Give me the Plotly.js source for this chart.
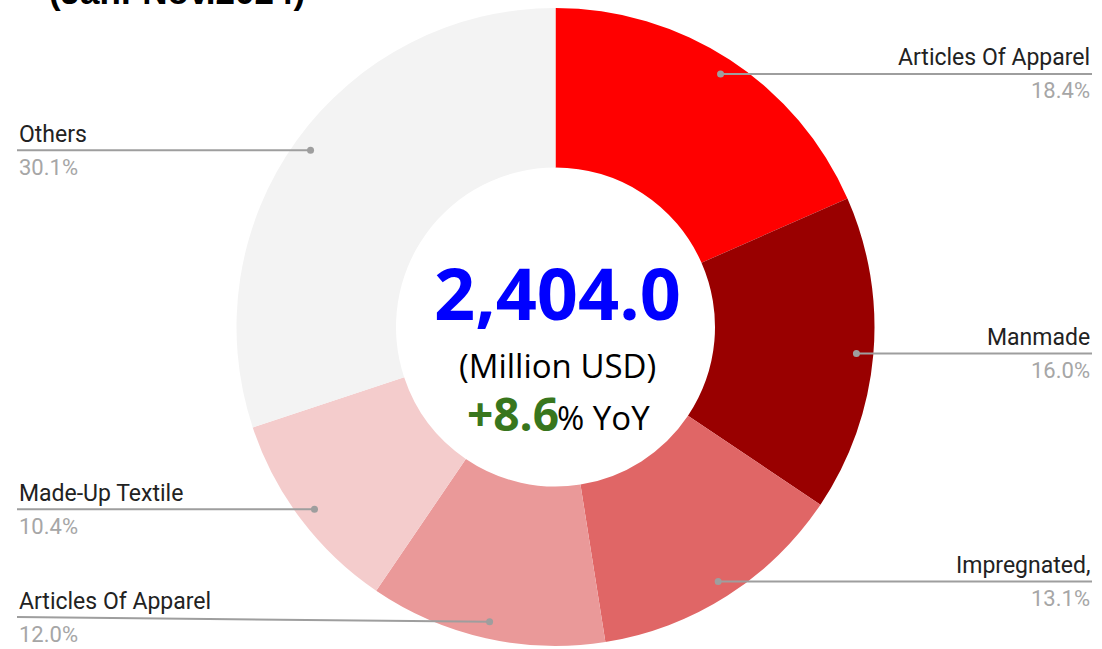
<!DOCTYPE html>
<html>
<head>
<meta charset="utf-8">
<script src="https://cdn.plot.ly/plotly-3.0.1.min.js"></script>
<style>
  html, body { margin: 0; padding: 0; background: #fff; }
  #chart { width: 1102px; height: 649px; }
</style>
</head>
<body>
<div id="chart"></div>
<script>
// slices, clockwise from 12 o'clock
var categories = ['Articles Of Apparel', 'Manmade', 'Impregnated,', 'Articles Of Apparel', 'Made-Up Textile', 'Others'];
var shares = [18.4, 16.0, 13.1, 12.0, 10.4, 30.1];
var colors = ['#ff0000', '#990000', '#e06666', '#ea9999', '#f4cccc', '#f3f3f3'];

var totalValue = '2,404.0';
var totalUnit = '(Million USD)';
var yoy = '+8.6';
var periodTitle = '(Jan.-Nov.2024)';

var W = 1102, H = 649;
var cx = 555.5, cy = 327, R = 319;

function px(x) { return x / W; }
function py(y) { return 1 - y / H; }

var shapes = [];
var annotations = [];

var sum = shares.reduce(function (a, b) { return a + b; }, 0);
var acc = 0;
shares.forEach(function (v, i) {
  var mid = (acc + v / 2) / sum * 2 * Math.PI;
  acc += v;
  var dx = cx + 0.947 * R * Math.sin(mid);
  var dy = cy - 0.947 * R * Math.cos(mid);
  var right = dx > cx;
  var lineY = Math.min(dy, H - 32);
  var edge = right ? 1092 : 17;

  shapes.push({
    type: 'line', xref: 'paper', yref: 'paper',
    x0: px(edge), y0: py(lineY), x1: px(dx), y1: py(dy),
    line: { color: '#9e9e9e', width: 2 }
  });
  shapes.push({
    type: 'circle', xref: 'paper', yref: 'paper',
    x0: px(dx - 3.5), x1: px(dx + 3.5), y0: py(dy - 3.5), y1: py(dy + 3.5),
    fillcolor: '#9e9e9e', line: { width: 0 }
  });
  annotations.push({
    xref: 'paper', yref: 'paper', x: px(edge), y: py(lineY - 16),
    xanchor: right ? 'right' : 'left', yanchor: 'middle', showarrow: false,
    text: categories[i],
    font: { family: 'Roboto, Arial, sans-serif', size: 23, color: '#222222' }
  });
  annotations.push({
    xref: 'paper', yref: 'paper', x: px(edge), y: py(lineY + 17),
    xanchor: right ? 'right' : 'left', yanchor: 'middle', showarrow: false,
    text: v.toFixed(1) + '%',
    font: { family: 'Roboto, Arial, sans-serif', size: 22, color: '#a6a6a6' }
  });
});

// centre text
annotations.push({
  xref: 'paper', yref: 'paper', x: px(557), y: py(292), showarrow: false,
  xanchor: 'center', yanchor: 'middle', borderpad: 0,
  text: '<b>' + totalValue + '</b>',
  font: { family: 'Open Sans, sans-serif', size: 72, color: '#0000ff' }
});
annotations.push({
  xref: 'paper', yref: 'paper', x: px(557), y: py(365), showarrow: false,
  xanchor: 'center', yanchor: 'middle', borderpad: 0,
  text: totalUnit,
  font: { family: 'Open Sans, sans-serif', size: 33, color: '#000000' }
});
annotations.push({
  xref: 'paper', yref: 'paper', x: px(560), y: py(413), showarrow: false,
  xanchor: 'right', yanchor: 'middle', borderpad: 0,
  text: '<b>' + yoy + '</b>',
  font: { family: 'Open Sans, sans-serif', size: 46, color: '#38761d' }
});
annotations.push({
  xref: 'paper', yref: 'paper', x: px(556), y: py(418), showarrow: false,
  xanchor: 'left', yanchor: 'middle', borderpad: 0,
  text: '% YoY',
  font: { family: 'Open Sans, sans-serif', size: 33, color: '#000000' }
});
// title, mostly cut off at the top
annotations.push({
  xref: 'paper', yref: 'paper', x: px(47), y: py(-8), showarrow: false,
  xanchor: 'left', yanchor: 'middle',
  text: '<b>' + periodTitle + '</b>',
  font: { family: 'Liberation Sans, Arial, sans-serif', size: 35, color: '#000000' }
});

var data = [{
  type: 'pie',
  labels: categories.map(function (c, i) { return i + ' ' + c; }),
  values: shares,
  sort: false,
  direction: 'clockwise',
  rotation: 0,
  hole: 0.5,
  textinfo: 'none',
  hoverinfo: 'none',
  marker: { colors: colors, line: { width: 0 } },
  domain: { x: [px(cx - R), px(cx + R)], y: [py(cy + R), py(cy - R)] }
}];

var layout = {
  width: W, height: H,
  margin: { l: 0, r: 0, t: 0, b: 0 },
  showlegend: false,
  paper_bgcolor: '#ffffff',
  shapes: shapes,
  annotations: annotations
};

Plotly.newPlot('chart', data, layout, { displayModeBar: false, staticPlot: true });
</script>
</body>
</html>
